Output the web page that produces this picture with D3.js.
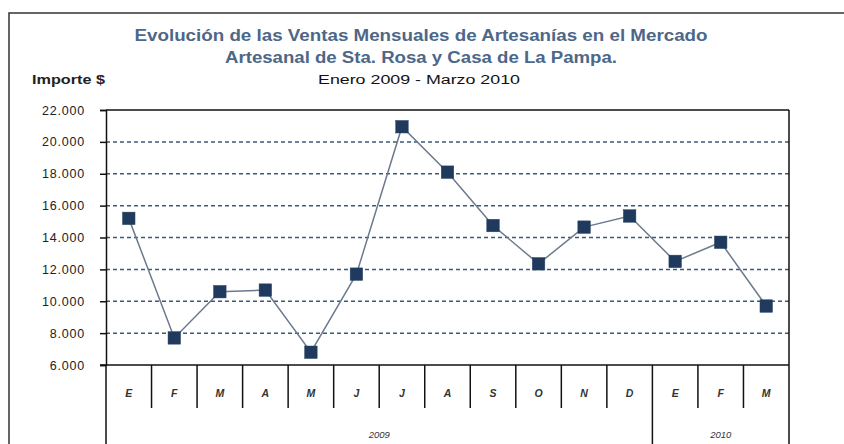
<!DOCTYPE html>
<html>
<head>
<meta charset="utf-8">
<script src="https://cdn.jsdelivr.net/npm/d3@7"></script>
<style>
  html, body { margin: 0; padding: 0; background: #fff; }
  svg { display: block; }
  text { font-family: "Liberation Sans", Arial, sans-serif; }
</style>
</head>
<body>
<svg id="chart" width="844" height="444"></svg>
<script>
// ---- data ----
const months = ["E","F","M","A","M","J","J","A","S","O","N","D","E","F","M"];
const monthYears = ["2009","2009","2009","2009","2009","2009","2009","2009","2009","2009","2009","2009","2010","2010","2010"];
const values = [15200, 7700, 10600, 10700, 6800, 11700, 20950, 18100, 14750, 12350, 14650, 15350, 12500, 13700, 9700];
const yTicks = [6000, 8000, 10000, 12000, 14000, 16000, 18000, 20000, 22000];
const titleLines = ["Evolución de las Ventas Mensuales de Artesanías en el Mercado",
                    "Artesanal de Sta. Rosa y Casa de La Pampa."];
const subtitle = "Enero  2009 - Marzo 2010";
const yTitle = "Importe $";

// ---- layout ----
const svg = d3.select("#chart");
const L = 106, R = 789, T = 110, B = 365;
const idx = months.map((_, i) => i);
const x = d3.scaleBand().domain(idx).range([L, R]).padding(0);
const y = d3.scaleLinear().domain([6000, 22000]).range([B, T]);
const loc = d3.formatLocale({decimal: ",", thousands: ".", grouping: [3], currency: ["$", ""]});
const fmt = loc.format(",");

// outer frame
svg.append("rect").attr("x", 9).attr("y", 13).attr("width", 844).attr("height", 444)
  .attr("fill", "none").attr("stroke", "#333").attr("stroke-width", 1.5);

// titles
const titleColor = "#4d6788";
svg.append("text").attr("x", 421).attr("y", 41).attr("text-anchor", "middle")
  .attr("font-size", 16).attr("font-weight", "bold").attr("fill", titleColor)
  .attr("textLength", 573).attr("lengthAdjust", "spacingAndGlyphs").text(titleLines[0]);
svg.append("text").attr("x", 421).attr("y", 63).attr("text-anchor", "middle")
  .attr("font-size", 16).attr("font-weight", "bold").attr("fill", titleColor)
  .attr("textLength", 392).attr("lengthAdjust", "spacingAndGlyphs").text(titleLines[1]);
svg.append("text").attr("x", 419).attr("y", 84).attr("text-anchor", "middle")
  .attr("font-size", 12.5).attr("fill", "#111")
  .attr("textLength", 202).attr("lengthAdjust", "spacingAndGlyphs").text(subtitle);
svg.append("text").attr("x", 32).attr("y", 84)
  .attr("font-size", 12.5).attr("font-weight", "bold").attr("fill", "#222")
  .attr("textLength", 73).attr("lengthAdjust", "spacingAndGlyphs").text(yTitle);

// gridlines (dashed)
svg.append("g").selectAll("line").data(yTicks.filter(d => d > 6000 && d < 22000)).join("line")
  .attr("x1", L).attr("x2", R).attr("y1", d => y(d)).attr("y2", d => y(d))
  .attr("stroke", "#3e5877").attr("stroke-width", 1.5).attr("stroke-dasharray", "4,3");

// y axis
const yAxis = d3.axisLeft(y).tickValues(yTicks).tickFormat(fmt).tickSize(6).tickPadding(15);
const gy = svg.append("g").attr("transform", `translate(${L},0)`).call(yAxis);
gy.select(".domain").attr("stroke", "#111").attr("stroke-width", 1.5);
gy.selectAll(".tick line").attr("stroke", "#111").attr("stroke-width", 1.5);
gy.selectAll(".tick text").attr("font-size", 12.5).attr("fill", "#222")
  .attr("letter-spacing", "0.8px")
  .attr("font-family", "'Liberation Sans', Arial, sans-serif");

// plot frame: top and right
svg.append("line").attr("x1", L).attr("x2", R).attr("y1", T).attr("y2", T)
  .attr("stroke", "#111").attr("stroke-width", 1.5);
svg.append("line").attr("x1", R).attr("x2", R).attr("y1", T).attr("y2", 444)
  .attr("stroke", "#111").attr("stroke-width", 1.5);
// left edge extends down through category area
svg.append("line").attr("x1", L).attr("x2", L).attr("y1", B).attr("y2", 444)
  .attr("stroke", "#111").attr("stroke-width", 1.5);
// bottom axis line
svg.append("line").attr("x1", L - 6).attr("x2", R).attr("y1", B).attr("y2", B)
  .attr("stroke", "#111").attr("stroke-width", 1.5);

// month separators
svg.append("g").selectAll("line").data(idx.slice(1)).join("line")
  .attr("x1", d => x(d)).attr("x2", d => x(d))
  .attr("y1", B).attr("y2", d => monthYears[d] !== monthYears[d - 1] ? 444 : 408)
  .attr("stroke", "#111").attr("stroke-width", 1.5);

// month labels
svg.append("g").selectAll("text").data(idx).join("text")
  .attr("x", d => x(d) + x.bandwidth() / 2).attr("y", 396.5)
  .attr("text-anchor", "middle").attr("font-size", 10.5).attr("font-style", "italic")
  .attr("font-weight", "bold").attr("fill", "#333").text(d => months[d]);

// year labels
const yearGroups = d3.groups(idx, d => monthYears[d]);
svg.append("g").selectAll("text").data(yearGroups).join("text")
  .attr("x", g => (x(g[1][0]) + x(g[1][g[1].length - 1]) + x.bandwidth()) / 2)
  .attr("y", 438).attr("text-anchor", "middle").attr("font-size", 9.5)
  .attr("font-style", "italic").attr("fill", "#333").text(g => g[0]);

// line
const line = d3.line().x(d => x(d) + x.bandwidth() / 2).y(d => y(values[d]));
svg.append("path").datum(idx).attr("d", line)
  .attr("fill", "none").attr("stroke", "#6b7a8d").attr("stroke-width", 1.5);

// markers
const ms = 12.5;
svg.append("g").selectAll("rect").data(idx).join("rect")
  .attr("x", d => x(d) + x.bandwidth() / 2 - ms / 2)
  .attr("y", d => y(values[d]) - ms / 2)
  .attr("width", ms).attr("height", ms)
  .attr("fill", "#1f3a5c").attr("stroke", "#2a4466").attr("stroke-width", 0.5);
</script>
</body>
</html>
